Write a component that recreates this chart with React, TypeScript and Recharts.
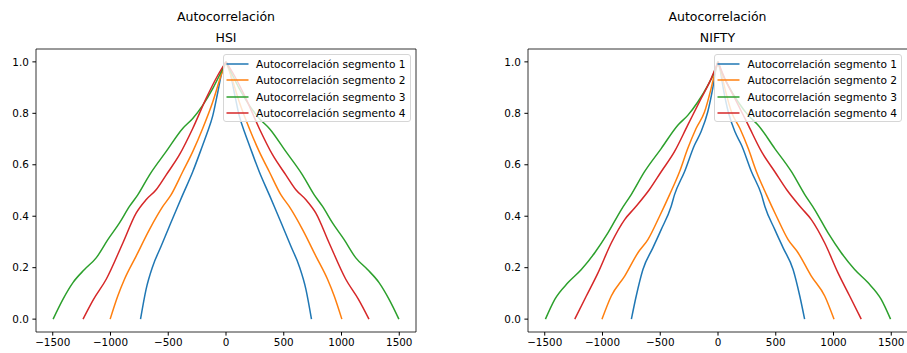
import React from "react";
import { LineChart, Line, XAxis, YAxis, ReferenceArea } from "recharts";

// half curves (lag >= 0, value); autocorrelation is symmetric around lag 0
const hsiSeg1 = [[0, 1], [30, 0.97], [72, 0.88], [115, 0.79], [158, 0.73], [202, 0.676], [288, 0.573], [375, 0.483], [418, 0.438], [490, 0.361], [562, 0.283], [634, 0.206], [692, 0.116], [740, 0]];
const hsiSeg2 = [[0, 1], [43, 0.947], [115, 0.844], [202, 0.741], [288, 0.651], [375, 0.573], [476, 0.483], [547, 0.438], [663, 0.348], [778, 0.245], [879, 0.155], [937, 0.09], [1003, 0]];
const hsiSeg3 = [[0, 1], [43, 0.96], [115, 0.896], [202, 0.831], [288, 0.78], [375, 0.741], [519, 0.651], [663, 0.56], [764, 0.483], [836, 0.438], [922, 0.374], [1023, 0.309], [1124, 0.238], [1225, 0.193], [1325, 0.142], [1412, 0.077], [1497, 0]];
const hsiSeg4 = [[0, 1], [72, 0.947], [173, 0.857], [288, 0.741], [404, 0.638], [519, 0.56], [605, 0.503], [692, 0.464], [778, 0.412], [893, 0.296], [1037, 0.155], [1147, 0.077], [1238, 0]];

const niftySeg1 = [[0, 1], [17, 0.973], [46, 0.896], [89, 0.805], [147, 0.728], [204, 0.676], [290, 0.573], [377, 0.483], [406, 0.438], [492, 0.348], [564, 0.277], [650, 0.193], [708, 0.09], [750, 0]];
const niftySeg2 = [[0, 1], [20, 0.97], [60, 0.896], [117, 0.805], [190, 0.741], [262, 0.663], [333, 0.573], [420, 0.483], [506, 0.4], [607, 0.309], [693, 0.258], [808, 0.167], [924, 0.09], [1004, 0]];
const niftySeg3 = [[0, 1], [32, 0.96], [89, 0.908], [175, 0.844], [262, 0.792], [348, 0.754], [492, 0.663], [636, 0.573], [750, 0.485], [838, 0.425], [953, 0.335], [1067, 0.258], [1183, 0.193], [1298, 0.142], [1413, 0.077], [1494, 0]];
const niftySeg4 = [[0, 1], [60, 0.934], [147, 0.857], [262, 0.754], [377, 0.651], [492, 0.573], [595, 0.503], [722, 0.432], [808, 0.387], [924, 0.296], [1039, 0.18], [1140, 0.09], [1240, 0]];

const segNames = ["Autocorrelación segmento 1", "Autocorrelación segmento 2", "Autocorrelación segmento 3", "Autocorrelación segmento 4"];
const colors = ["#1f77b4", "#ff7f0e", "#2ca02c", "#d62728"];
const xTicks = [-1500, -1000, -500, 0, 500, 1000, 1500];
const yTicks = [0, 0.2, 0.4, 0.6, 0.8, 1.0];

const side = (pts: number[][], sign: number) => pts.map(([l, v]) => ({ x: sign * l, y: v }));

const font = "DejaVu Sans, sans-serif";
const tickStyle = { fontSize: 10.4, fill: "#000", fontFamily: font };

function Panel({ title, segs, left }: { title: string; segs: number[][][]; left: number }) {
  return (
    <div style={{ position: "absolute", left, top: 0, width: 454, height: 353 }}>
      <div style={{ position: "absolute", left: 0, width: 452, top: 9, textAlign: "center", fontSize: 12.5, lineHeight: "15px" }}>
        Autocorrelación
      </div>
      <div style={{ position: "absolute", left: 0, width: 452, top: 29.5, textAlign: "center", fontSize: 12.5, lineHeight: "15px" }}>
        {title}
      </div>
      <LineChart width={454} height={353} margin={{ top: 49, right: 38, bottom: 0, left: 0 }}>
        <XAxis
          type="number"
          dataKey="x"
          domain={[-1645, 1645]}
          allowDataOverflow
          ticks={xTicks}
          tickFormatter={(v: number) => (v < 0 ? "\u2212" + Math.abs(v) : String(v))}
          height={21}
          axisLine={false}
          tickSize={3.6}
          tickMargin={3.5}
          tick={tickStyle}
          tickLine={{ stroke: "#000" }}
        />
        <YAxis
          type="number"
          domain={[-0.05, 1.05]}
          allowDataOverflow
          ticks={yTicks}
          tickFormatter={(v: number) => v.toFixed(1)}
          width={36}
          axisLine={false}
          tickSize={3.6}
          tickMargin={3.5}
          tick={tickStyle}
          tickLine={{ stroke: "#000" }}
        />
        {segs.map((s, i) => (
          <Line key={"l" + i} data={side(s, -1)} dataKey="y" type="monotone" stroke={colors[i]} strokeWidth={1.5} dot={false} isAnimationActive={false} />
        ))}
        {segs.map((s, i) => (
          <Line key={"r" + i} data={side(s, 1)} dataKey="y" type="monotone" stroke={colors[i]} strokeWidth={1.5} dot={false} isAnimationActive={false} />
        ))}
        <ReferenceArea x1={-1645} x2={1645} y1={-0.05} y2={1.05} fill="none" stroke="#000" strokeWidth={0.8} ifOverflow="visible" />
      </LineChart>
      <div
        style={{
          position: "absolute",
          left: 222.5,
          top: 54,
          width: 188,
          height: 68,
          boxSizing: "border-box",
          border: "1px solid #d6d6d6",
          borderRadius: 3,
          background: "rgba(255,255,255,0.8)",
        }}
      >
        {segNames.map((n, i) => (
          <div key={n} style={{ position: "absolute", left: 0, top: 1 + i * 16.33, height: 16, width: 186 }}>
            <svg width={26} height={16} style={{ position: "absolute", left: 1, top: 0 }}>
              <line x1={1.5} y1={8} x2={23.5} y2={8} stroke={colors[i]} strokeWidth={1.5} />
            </svg>
            <div style={{ position: "absolute", left: 32.5, top: 1, fontSize: 10.6, lineHeight: "14px", whiteSpace: "nowrap" }}>{n}</div>
          </div>
        ))}
      </div>
    </div>
  );
}

export default function App() {
  return (
    <div
      style={{
        position: "absolute",
        left: 0,
        top: 0,
        width: 907,
        height: 353,
        overflow: "hidden",
        background: "#fff",
        fontFamily: font,
        color: "#000",
      }}
    >
      <Panel title="HSI" segs={[hsiSeg1, hsiSeg2, hsiSeg3, hsiSeg4]} left={0} />
      <Panel title="NIFTY" segs={[niftySeg1, niftySeg2, niftySeg3, niftySeg4]} left={491.5} />
    </div>
  );
}
